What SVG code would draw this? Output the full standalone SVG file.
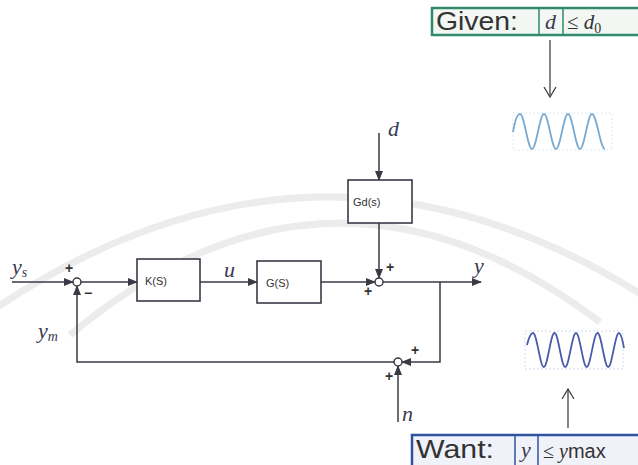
<svg xmlns="http://www.w3.org/2000/svg" width="638" height="465" viewBox="0 0 638 465">
<style>
.ln{fill:none;stroke:#3a3a46;stroke-width:1.5}
.box{fill:#fff;stroke:#3a3a46;stroke-width:1.6}
.sum{fill:#fff;stroke:#3a3a46;stroke-width:1.5}
.bt{font-family:"Liberation Sans",sans-serif;font-size:11px;fill:#333}
.m{font-family:"Liberation Serif",serif;font-style:italic;font-size:22px;fill:#3a3a50}
.sg{font-family:"Liberation Sans",sans-serif;font-weight:bold;font-size:14px;fill:#333}
.hd{font-family:"Liberation Sans",sans-serif;font-size:25px;fill:#333}
.wm{fill:none;stroke:#ececec;stroke-width:7}
</style>
<defs>
<marker id="ah" markerUnits="userSpaceOnUse" markerWidth="10" markerHeight="8" refX="9" refY="4" orient="auto">
<path d="M0,0 L10,4 L0,8 Z" fill="#3a3a46"/>
</marker>
<marker id="oh" markerUnits="userSpaceOnUse" markerWidth="12" markerHeight="14" refX="10" refY="7" orient="auto">
<path d="M0,1 L10,7 L0,13" fill="none" stroke="#444" stroke-width="1.3"/>
</marker>
</defs>
<rect width="638" height="465" fill="#fff"/>
<g id="watermark">
<path class="wm" d="M-10,312 Q320,88 650,300"/>
<path class="wm" d="M70,335 Q330,118 600,322"/>
</g>
<g id="connectors">
<line class="ln" x1="12" y1="282" x2="73" y2="282" marker-end="url(#ah)"/>
<line class="ln" x1="81" y1="282" x2="137" y2="282" marker-end="url(#ah)"/>
<line class="ln" x1="200" y1="282" x2="257" y2="282" marker-end="url(#ah)"/>
<line class="ln" x1="321" y1="282" x2="375" y2="282" marker-end="url(#ah)"/>
<line class="ln" x1="379" y1="133" x2="379" y2="180" marker-end="url(#ah)"/>
<line class="ln" x1="379" y1="223" x2="379" y2="278" marker-end="url(#ah)"/>
<line class="ln" x1="383" y1="282" x2="481" y2="282" marker-end="url(#ah)"/>
<polyline class="ln" points="440,282 440,362 402,362" marker-end="url(#ah)"/>
<polyline class="ln" points="394,362 77,362 77,286" marker-end="url(#ah)"/>
<line class="ln" x1="398" y1="422" x2="398" y2="366" marker-end="url(#ah)"/>
<line x1="550" y1="40" x2="550" y2="97" stroke="#444" stroke-width="1.3" marker-end="url(#oh)"/>
<line x1="568" y1="428" x2="568" y2="389" stroke="#444" stroke-width="1.3" marker-end="url(#oh)"/>
</g>
<g id="sum1"><circle class="sum" cx="77" cy="282" r="4"/><text class="sg" x="65" y="273">+</text><text class="sg" x="84" y="298">−</text></g>
<g id="sum2"><circle class="sum" cx="379" cy="282" r="4"/><text class="sg" x="386" y="272">+</text><text class="sg" x="364" y="296">+</text></g>
<g id="sum3"><circle class="sum" cx="398" cy="362" r="4"/><text class="sg" x="411" y="355">+</text><text class="sg" x="385" y="381">+</text></g>
<g id="K"><rect class="box" x="137" y="259" width="63" height="42"/><text class="bt" x="145" y="285">K(S)</text></g>
<g id="G"><rect class="box" x="257" y="261" width="64" height="42"/><text class="bt" x="266" y="287">G(S)</text></g>
<g id="Gd"><rect class="box" x="348" y="180" width="64" height="43"/><text class="bt" x="353" y="206">Gd(s)</text></g>
<g id="labels">
<text class="m" x="12" y="274">y<tspan font-size="14" dy="3">s</tspan></text>
<text class="m" x="38" y="338">y<tspan font-size="14" dy="3">m</tspan></text>
<text class="m" x="224" y="277">u</text>
<text class="m" x="388" y="136">d</text>
<text class="m" x="474" y="273">y</text>
<text class="m" x="402" y="421">n</text>
</g>
<g id="given">
<rect x="432" y="8" width="212" height="27" fill="#f2f7f4" stroke="#2f8a6e" stroke-width="2.5"/>
<line x1="539" y1="9" x2="539" y2="34" stroke="#2f8a6e" stroke-width="1.5"/>
<line x1="563" y1="9" x2="563" y2="34" stroke="#2f8a6e" stroke-width="1.5"/>
<text class="hd" x="436" y="30" textLength="82" lengthAdjust="spacingAndGlyphs">Given:</text>
<text class="m" x="545" y="29" font-size="20">d</text>
<text x="567" y="29" font-family="Liberation Serif,serif" font-size="21" fill="#333">≤ <tspan font-style="italic">d</tspan><tspan font-size="14" dy="4">0</tspan></text>
</g>
<g id="wave1">
<rect x="513" y="113" width="99" height="37" fill="none" stroke="#d6e2ee" stroke-width="0.8" stroke-dasharray="2,2"/>
<path d="M513,132 C515,120 517,114 520,114 C524.4,114 527.6,149 532,149 C536.4,149 539.6,114 544,114 C548.4,114 551.6,149 556,149 C560.4,149 563.6,114 568,114 C572.4,114 575.6,149 580,149 C584.4,149 587.6,114 592,114 C596.7,114 600.3,149 605,149" fill="none" stroke="#7aaad2" stroke-width="1.8"/>
</g>
<g id="wave2">
<rect x="525" y="331" width="98" height="38" fill="none" stroke="#c8d2ea" stroke-width="0.8" stroke-dasharray="2,2"/>
<path d="M527,345 C529,337 531,333 533,333 C537,333 540,367 543.8,367 C547.7,367 550.6,333 554.5,333 C558.4,333 561.3,367 565.2,367 C569.1,367 572,333 576,333 C580,333 582.8,367 586.7,367 C590.6,367 593.5,333 597.5,333 C601.4,333 604.3,367 608.2,367 C612.1,367 615,333 619,333 C621,333 622.5,340 624,348" fill="none" stroke="#4a5cab" stroke-width="1.8"/>
</g>
<g id="want">
<rect x="412" y="435" width="232" height="32" fill="#f0f2fa" stroke="#3050a0" stroke-width="2.5"/>
<line x1="515" y1="436" x2="515" y2="465" stroke="#3050a0" stroke-width="1.5"/>
<line x1="538" y1="436" x2="538" y2="465" stroke="#3050a0" stroke-width="1.5"/>
<text class="hd" x="416" y="458" textLength="78" lengthAdjust="spacingAndGlyphs">Want:</text>
<text class="m" x="521" y="457" font-size="20">y</text>
<text x="543" y="458" font-family="Liberation Serif,serif" font-size="20" fill="#333">≤ <tspan font-style="italic">y</tspan><tspan font-family="Liberation Sans,sans-serif">max</tspan></text>
</g>
</svg>
